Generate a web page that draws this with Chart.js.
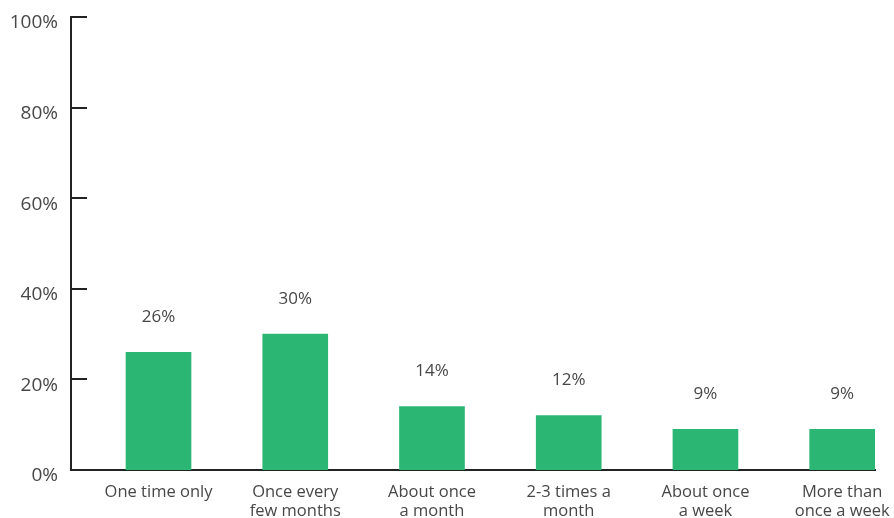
<!DOCTYPE html>
<html>
<head>
<meta charset="utf-8">
<script src="https://cdn.jsdelivr.net/npm/chart.js@4"></script>
<style>
  html, body { margin: 0; padding: 0; background: #fff; }
  #wrap { width: 894px; height: 518px; }
</style>
</head>
<body>
<div id="wrap"><canvas id="chart" width="894" height="518"></canvas></div>
<script>
const CATEGORIES = [
  ["One time only"],
  ["Once every", "few months"],
  ["About once", "a month"],
  ["2-3 times a", "month"],
  ["About once", "a week"],
  ["More than", "once a week"],
];
const SHARES = [26, 30, 14, 12, 9, 9];
const Y_TICKS = [0, 20, 40, 60, 80, 100];

const TEXT = "#474747";
const AXIS = "#222";
const GREEN = "#2bb673";
const FONT = "'Open Sans', Lato, sans-serif";

// short tick marks drawn inside the plot, off the y axis
const innerTicks = {
  id: "innerTicks",
  afterDraw(chart) {
    const { ctx, scales } = chart;
    const y = scales.y;
    const left = chart.chartArea.left;
    ctx.save();
    ctx.strokeStyle = AXIS;
    ctx.lineWidth = 2;
    Y_TICKS.forEach((v) => {
      if (v === 0) return;
      const py = Math.round(y.getPixelForValue(v));
      ctx.beginPath();
      ctx.moveTo(left, py);
      ctx.lineTo(left + 16, py);
      ctx.stroke();
    });
    ctx.restore();
  },
};

// value labels above each bar
const valueLabels = {
  id: "valueLabels",
  afterDatasetsDraw(chart) {
    const { ctx } = chart;
    const meta = chart.getDatasetMeta(0);
    ctx.save();
    ctx.fillStyle = TEXT;
    ctx.font = `17px ${FONT}`;
    ctx.textAlign = "center";
    ctx.textBaseline = "middle";
    meta.data.forEach((bar, i) => {
      ctx.fillText(`${SHARES[i]}%`, bar.x, bar.y - 35);
    });
    ctx.restore();
  },
};

new Chart(document.getElementById("chart"), {
  type: "bar",
  data: {
    datasets: [
      {
        data: SHARES.map((v, i) => ({ x: i, y: v })),
        backgroundColor: GREEN,
        barThickness: 65,
      },
    ],
  },
  options: {
    responsive: false,
    animation: false,
    layout: { padding: { top: 17, right: 19, left: 0, bottom: 0 } },
    plugins: { legend: { display: false }, tooltip: { enabled: false } },
    scales: {
      x: {
        type: "linear",
        offset: false,
        min: -0.64,
        max: 5.24,
        afterBuildTicks: (scale) => {
          scale.ticks = CATEGORIES.map((_, i) => ({ value: i }));
        },
        afterFit: (scale) => {
          scale.height = 48;
          scale.paddingLeft = 0;
          scale.paddingRight = 0;
        },
        grid: { display: false, offset: false },
        border: { display: true, color: AXIS, width: 2 },
        ticks: {
          autoSkip: false,
          maxRotation: 0,
          padding: 5,
          color: TEXT,
          font: { family: FONT, size: 16.5, lineHeight: 1.16 },
          callback: (v) => CATEGORIES[v],
        },
      },
      y: {
        min: 0,
        max: 100,
        afterBuildTicks: (scale) => {
          scale.ticks = Y_TICKS.map((v) => ({ value: v }));
        },
        afterFit: (scale) => {
          scale.width = 71;
          scale.paddingTop = 0;
          scale.paddingBottom = 0;
        },
        grid: { display: false, drawTicks: false },
        border: { display: true, color: AXIS, width: 2 },
        ticks: {
          padding: 13,
          labelOffset: 6,
          color: TEXT,
          font: { family: FONT, size: 19, lineHeight: 1 },
          callback: (v) => `${v}%`,
        },
      },
    },
  },
  plugins: [innerTicks, valueLabels],
});
</script>
</body>
</html>
